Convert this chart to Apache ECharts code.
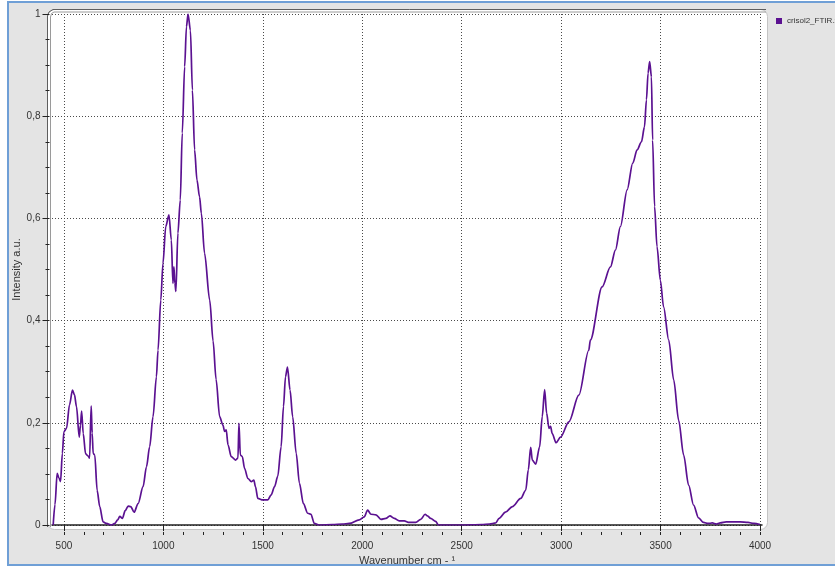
<!DOCTYPE html>
<html><head><meta charset="utf-8">
<script src="https://cdn.jsdelivr.net/npm/echarts@6/dist/echarts.min.js"></script>
<style>html,body{margin:0;padding:0;background:#fff}#c{width:835px;height:568px}</style>
</head><body><div id="c"></div>
<script>
const seriesName = 'crisol2_FTIR.xls';
const xTitle = 'Wavenumber cm - \u00b9';
const yTitle = 'Intensity a.u.';
const wavenumbers = [446,455,466,475,483,492,500,513,528,543,553,563,577,583,589,597,609,622,629,637,642,647,655,667,680,697,714,739,756,770,781,794,808,823,836,853,873,898,915,931,948,965,973,987,998,1012,1028,1040,1048,1053,1058,1063,1073,1085,1095,1107,1116,1124,1136,1146,1157,1169,1182,1191,1207,1233,1250,1265,1283,1299,1308,1316,1325,1341,1363,1375,1380,1387,1397,1408,1425,1442,1455,1463,1475,1500,1525,1542,1559,1575,1592,1604,1614,1624,1637,1650,1668,1684,1704,1726,1742,1759,1784,1850,1900,1935,1985,2010,2027,2044,2069,2094,2119,2139,2161,2186,2211,2236,2269,2294,2316,2328,2344,2369,2383,2500,2600,2640,2671,2688,2720,2755,2797,2822,2835,2847,2855,2872,2892,2905,2917,2927,2939,2947,2955,2975,2997,3039,3089,3139,3147,3206,3248,3273,3298,3332,3360,3382,3404,3419,3429,3437,3445,3454,3460,3470,3482,3499,3515,3541,3566,3591,3616,3641,3666,3691,3716,3740,3760,3780,3800,3830,3860,3900,3940,3970,4000];
const intensities = [0.000,0.040,0.101,0.092,0.085,0.140,0.183,0.189,0.235,0.264,0.255,0.232,0.172,0.195,0.223,0.179,0.139,0.135,0.131,0.233,0.180,0.140,0.137,0.068,0.036,0.006,0.003,0.000,0.003,0.010,0.017,0.013,0.028,0.037,0.036,0.025,0.042,0.075,0.114,0.153,0.212,0.290,0.342,0.440,0.512,0.584,0.607,0.558,0.473,0.505,0.473,0.457,0.571,0.636,0.767,0.897,0.975,1.000,0.968,0.851,0.734,0.675,0.642,0.610,0.532,0.440,0.360,0.285,0.212,0.196,0.183,0.186,0.157,0.134,0.127,0.131,0.199,0.137,0.134,0.111,0.091,0.085,0.088,0.075,0.052,0.049,0.049,0.059,0.075,0.095,0.153,0.232,0.290,0.309,0.264,0.212,0.140,0.082,0.042,0.023,0.021,0.003,0.000,0.001,0.002,0.003,0.010,0.016,0.029,0.021,0.020,0.011,0.013,0.018,0.013,0.008,0.008,0.005,0.005,0.011,0.021,0.018,0.013,0.007,0.000,0.000,0.001,0.002,0.004,0.013,0.025,0.036,0.052,0.068,0.108,0.152,0.127,0.119,0.153,0.212,0.265,0.219,0.189,0.193,0.179,0.161,0.172,0.202,0.254,0.342,0.362,0.466,0.505,0.538,0.584,0.656,0.708,0.734,0.750,0.779,0.832,0.884,0.907,0.877,0.753,0.623,0.545,0.479,0.427,0.362,0.284,0.205,0.137,0.078,0.039,0.014,0.005,0.003,0.004,0.002,0.004,0.006,0.006,0.006,0.005,0.003,0.001];
const xMajorTicks = [500,1000,1500,2000,2500,3000,3500,4000];
const xMinorTicks = [500,600,700,800,900,1000,1100,1200,1300,1400,1500,1600,1700,1800,1900,2000,2100,2200,2300,2400,2500,2600,2700,2800,2900,3000,3100,3200,3300,3400,3500,3600,3700,3800,3900,4000];
const yMin = 0, yMax = 1, yStep = 0.2;

const font = 'Liberation Sans, Arial, sans-serif';
const lineColor = '#5b1191';
const gridDots = {type: [1, 2], color: '#4a4a4a', width: 1};
const chart = echarts.init(document.getElementById('c'), null, {renderer: 'canvas'});
const points = wavenumbers.map((w, i) => [w, intensities[i]]);

chart.setOption({
  backgroundColor: '#fff',
  animation: false,
  graphic: [
    {type: 'rect', z: -20, shape: {x: 8, y: 2, width: 840, height: 563}, style: {fill: '#e4e4e4', stroke: '#6f9fd6', lineWidth: 2}},
    {type: 'rect', z: -19, shape: {x: 47.5, y: 9.5, width: 720, height: 520, r: 7}, style: {fill: '#fff', stroke: '#c4c4c4', lineWidth: 1}},
    {type: 'polyline', z: -18, shape: {points: [[47.5, 527], [47.5, 16], [49, 12], [53, 9.5], [766, 9.5]]}, style: {stroke: '#5e5e5e', lineWidth: 1, fill: null}},
    {type: 'polyline', z: -18, shape: {points: [[50.5, 527], [50.5, 17], [51.5, 13.5], [54, 12], [766, 12]]}, style: {stroke: '#9a9a9a', lineWidth: 1, fill: null}}
  ],
  grid: {left: 52, right: 73, top: 14, bottom: 43, containLabel: false, outerBoundsMode: 'none'},
  legend: {
    left: 771, top: 12, orient: 'vertical', icon: 'rect', itemWidth: 6, itemHeight: 6, itemGap: 4,
    data: [seriesName],
    textStyle: {fontFamily: font, fontSize: 8, color: '#333'}
  },
  xAxis: [{
    type: 'value', min: 440, max: 4010, position: 'bottom', offset: 7,
    name: xTitle, nameLocation: 'middle', nameGap: 23, nameMoveOverlap: false,
    nameTextStyle: {fontFamily: font, fontSize: 11, color: '#333'},
    axisLine: {show: true, lineStyle: {color: '#222', width: 1.5}},
    axisTick: {show: true, customValues: xMajorTicks, length: 6, lineStyle: {color: '#222'}},
    axisLabel: {customValues: xMajorTicks, fontFamily: font, fontSize: 10, color: '#333', margin: 9,
      formatter: v => String(v)},
    splitLine: {show: true, lineStyle: gridDots},
    minorTick: {show: false}
  }, {
    type: 'value', min: 440, max: 4010, position: 'bottom', offset: 7,
    axisLine: {show: false},
    axisTick: {show: true, customValues: xMinorTicks, length: 3, lineStyle: {color: '#222'}},
    axisLabel: {show: false},
    splitLine: {show: false}
  }],
  yAxis: {
    type: 'value', min: yMin, max: yMax, interval: yStep, offset: 2.5,
    name: yTitle, nameLocation: 'middle', nameGap: 27, nameRotate: 90, nameMoveOverlap: false,
    nameTextStyle: {fontFamily: font, fontSize: 11, color: '#333'},
    axisLine: {show: false},
    axisTick: {show: true, length: 7, lineStyle: {color: '#222'}},
    minorTick: {show: true, splitNumber: 4, length: 4, lineStyle: {color: '#222'}},
    axisLabel: {fontFamily: font, fontSize: 10, color: '#333', margin: 9,
      formatter: v => String(Math.round(v * 10) / 10).replace('.', ',')},
    splitLine: {show: true, lineStyle: gridDots}
  },
  series: [{
    name: seriesName, type: 'line', xAxisIndex: 0, data: points,
    showSymbol: false, symbol: 'none', smooth: 0.3, smoothMonotone: 'x',
    lineStyle: {color: lineColor, width: 1.7}, itemStyle: {color: lineColor}
  }]
});
</script>
</body></html>
